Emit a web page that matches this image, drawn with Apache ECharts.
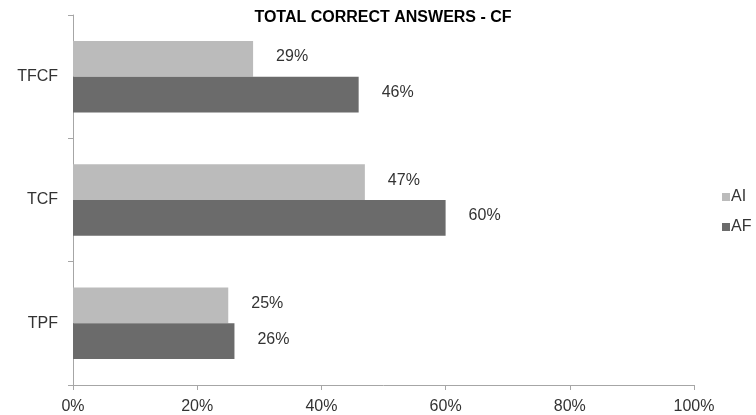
<!DOCTYPE html>
<html>
<head>
<meta charset="utf-8">
<script src="https://cdn.jsdelivr.net/npm/echarts@6/dist/echarts.min.js"></script>
<style>
  html, body { margin: 0; padding: 0; background: #fff; }
  #chart { width: 756px; height: 415px; }
</style>
</head>
<body>
<div id="chart"></div>
<script>
// Categories listed bottom-to-top along the vertical axis
var categories = ['TPF', 'TCF', 'TFCF'];
var seriesAI = [25, 47, 29];
var seriesAF = [26, 60, 46];
var xTicks = [0, 20, 40, 60, 80, 100];

var FONT = '"Liberation Sans", Arial, sans-serif';
var TEXT = '#333';
var chart = echarts.init(document.getElementById('chart'));

var labelStyle = {
  show: true,
  position: 'right',
  distance: 23,
  offset: [0, -2],
  formatter: '{c}%',
  color: TEXT,
  fontSize: 16,
  fontFamily: FONT
};

chart.setOption({
  animation: false,
  backgroundColor: '#fff',
  title: {
    text: 'TOTAL CORRECT ANSWERS - CF',
    left: 383,
    textAlign: 'center',
    top: 10,
    padding: 0,
    textStyle: { fontSize: 16, fontWeight: 'bold', color: '#000', fontFamily: FONT }
  },
  legend: {
    orient: 'vertical',
    left: 717,
    top: 184,
    data: ['AI', 'AF'],
    icon: 'rect',
    itemWidth: 8,
    itemHeight: 8,
    itemGap: 14,
    textStyle: { fontSize: 16, color: TEXT, fontFamily: FONT, padding: [0, 0, 0, -4] }
  },
  grid: { left: 73, right: 62, top: 15, bottom: 25 },
  xAxis: {
    type: 'value',
    min: xTicks[0],
    max: xTicks[xTicks.length - 1],
    interval: 20,
    splitLine: { show: false },
    axisLine: { show: true, lineStyle: { color: '#a6a6a6' } },
    axisTick: { show: true, length: 5, lineStyle: { color: '#a6a6a6' } },
    axisLabel: { formatter: '{value}%', fontSize: 16, color: TEXT, margin: 14, fontFamily: FONT }
  },
  yAxis: {
    type: 'category',
    data: categories,
    axisLine: { show: true, lineStyle: { color: '#a6a6a6' } },
    axisTick: { show: true, length: 5, alignWithLabel: false, lineStyle: { color: '#a6a6a6' } },
    axisLabel: { fontSize: 16, color: TEXT, margin: 15, fontFamily: FONT }
  },
  series: [
    {
      name: 'AI',
      type: 'bar',
      data: seriesAI,
      barGap: '0%',
      barCategoryGap: '42%',
      itemStyle: { color: '#bbbbbb' },
      label: labelStyle
    },
    {
      name: 'AF',
      type: 'bar',
      data: seriesAF,
      barGap: '0%',
      barCategoryGap: '42%',
      itemStyle: { color: '#6b6b6b' },
      label: labelStyle
    }
  ]
});
</script>
</body>
</html>
